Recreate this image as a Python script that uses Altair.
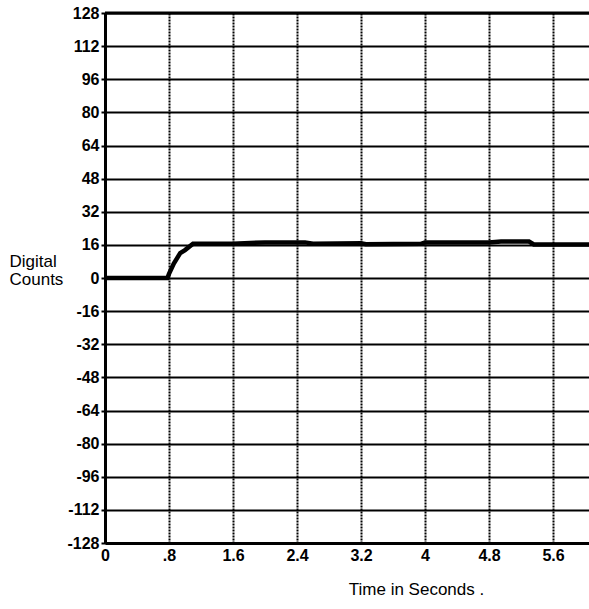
import altair as alt
import pandas as pd

# Trace data
time_s = [0, 0.78, 0.80, 0.86, 0.94, 1.00, 1.10, 1.60, 2.00, 2.50, 2.60, 3.20, 3.26, 3.95, 4.00, 4.80, 4.95, 5.30, 5.36, 6.10]
counts = [0, 0, 2, 7, 12, 13.5, 16.6, 16.6, 17.2, 17.2, 16.6, 16.8, 16.3, 16.5, 17.2, 17.2, 17.6, 17.6, 16.2, 16.2]

x_ticks = [0, 0.8, 1.6, 2.4, 3.2, 4.0, 4.8, 5.6]
x_labels = ["0", ".8", "1.6", "2.4", "3.2", "4", "4.8", "5.6"]
y_ticks = [-128, -112, -96, -80, -64, -48, -32, -16, 0, 16, 32, 48, 64, 80, 96, 112, 128]

df = pd.DataFrame({"t": time_s, "c": counts})

mapping = " : ".join([f"abs(datum.value-{v})<0.01 ? '{l}'" for v, l in zip(x_ticks, x_labels)]) + " : ''"

x_scale = alt.Scale(domain=[0, 6.05], nice=False, zero=False)
y_scale = alt.Scale(domain=[-128, 128], nice=False, zero=False)

x_enc = alt.X(
    "t:Q",
    scale=x_scale,
    axis=alt.Axis(
        values=x_ticks,
        labelExpr=mapping,
        title="Time in Seconds .",
        titleFont="Liberation Sans",
        titleFontSize=17,
        titleFontWeight="normal",
        titleColor="black",
        titleAnchor="start",
        titleAlign="center",
        titleX=311,
        titleY=51,
        titleBaseline="alphabetic",
        labelFont="Liberation Sans",
        labelFontSize=16,
        labelFontWeight="bold",
        labelColor="black",
        labelPadding=4,
        labelOverlap=False,
        tickSize=0,
        domainColor="black",
        domainWidth=3,
        grid=True,
        gridColor="black",
        gridWidth=2,
        gridDash=[2, 1],
        gridOpacity=1,
        labelFlush=False,
    ),
)

y_enc = alt.Y(
    "c:Q",
    scale=y_scale,
    axis=alt.Axis(
        values=y_ticks,
        labelExpr="'' + datum.value",
        title=["Digital", "Counts"],
        titleAngle=0,
        titleAlign="left",
        titleBaseline="top",
        titleX=-96,
        titleY=240,
        titleFont="Liberation Sans",
        titleFontSize=17,
        titleFontWeight="normal",
        titleColor="black",
        titleLineHeight=18,
        labelFont="Liberation Sans",
        labelFontSize=16,
        labelFontWeight="bold",
        labelColor="black",
        labelPadding=2,
        labelOverlap=False,
        tickSize=4,
        tickWidth=2,
        tickColor="black",
        domainColor="black",
        domainWidth=3,
        grid=True,
        gridColor="black",
        gridWidth=2,
        gridOpacity=1,
        labelFlush=False,
    ),
)

line = alt.Chart(df).mark_line(color="black", strokeWidth=4.5, clip=True).encode(x=x_enc, y=y_enc)

top = alt.Chart(pd.DataFrame({"c": [128]})).mark_rule(color="black", strokeWidth=3).encode(y=y_enc)

chart = alt.layer(line, top).properties(
    width=484,
    height=530,
    padding={"left": 105, "top": 13, "right": 0, "bottom": 66},
    autosize=alt.AutoSizeParams(type="none"),
    background="white",
).configure_view(stroke=None)

chart.save("out.html", embed_options={"renderer": "svg", "actions": False})
